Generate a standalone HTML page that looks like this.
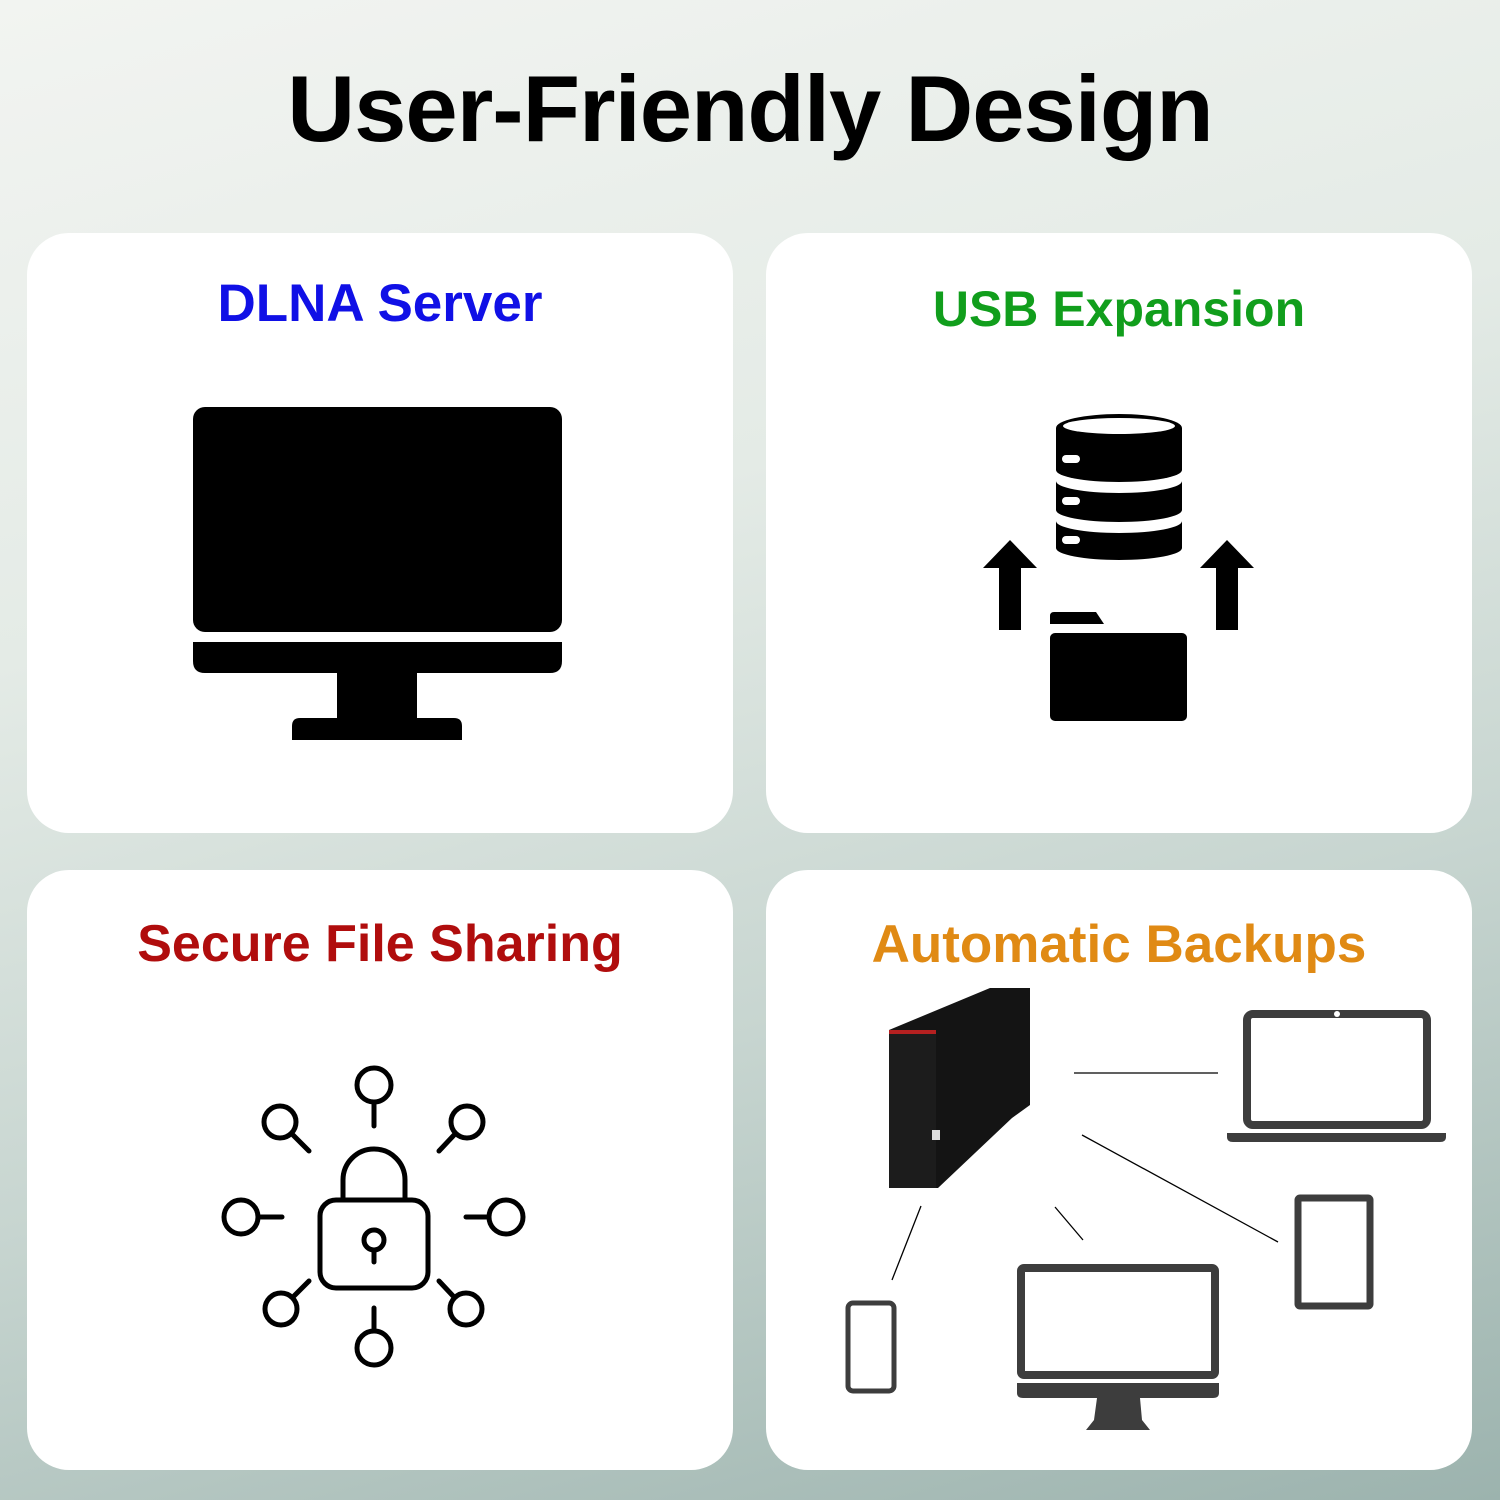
<!DOCTYPE html>
<html><head><style>
body{margin:0;width:1500px;height:1500px;overflow:hidden;font-family:"Liberation Sans",sans-serif;}
.bg{position:absolute;inset:0;background:linear-gradient(165deg,#f2f4f1 0%,#e4ebe6 35%,#c7d5d0 65%,#9cb3ae 100%);}
.card{position:absolute;background:#fff;border-radius:42px;width:706px;height:600px;}
h{position:absolute;font-weight:bold;white-space:nowrap;text-align:center;}
</style></head><body>
<div class="bg"></div>
<h style="left:0;width:1500px;top:55px;font-size:94px;color:#000;letter-spacing:-1px;">User-Friendly Design</h>
<div class="card" style="left:27px;top:233px"></div>
<div class="card" style="left:766px;top:233px"></div>
<div class="card" style="left:27px;top:870px"></div>
<div class="card" style="left:766px;top:870px"></div>
<h style="left:27px;width:706px;top:273px;font-size:53px;color:#1010e6;">DLNA Server</h>
<h style="left:766px;width:706px;top:280px;font-size:50px;color:#119e1c;">USB Expansion</h>
<h style="left:27px;width:706px;top:914px;font-size:52px;color:#b00d0d;">Secure File Sharing</h>
<h style="left:766px;width:706px;top:914px;font-size:53px;color:#e08a14;">Automatic Backups</h>
<svg width="1500" height="1500" style="position:absolute;left:0;top:0">
<rect x="193" y="407" width="369" height="225" rx="12" fill="#000"/>
<path d="M193 642H562V661Q562 673 550 673H205Q193 673 193 661Z" fill="#000"/>
<rect x="337" y="673" width="80" height="47" fill="#000"/>
<path d="M292 740V726Q292 718 300 718H454Q462 718 462 726V740Z" fill="#000"/>
<g fill="#000">
<path d="M1056 428A63 14 0 0 1 1182 428V470A63 12 0 0 1 1056 470Z"/>
<path d="M1056 481A63 12 0 0 0 1182 481V510A63 12 0 0 1 1056 510Z"/>
<path d="M1056 521A63 12 0 0 0 1182 521V548A63 12 0 0 1 1056 548Z"/>
</g>
<ellipse cx="1119" cy="426" rx="56" ry="8" fill="#fff"/>
<g fill="#fff"><rect x="1062" y="455" width="18" height="8" rx="4"/><rect x="1062" y="497" width="18" height="8" rx="4"/><rect x="1062" y="536" width="18" height="8" rx="4"/></g>
<path d="M983 568L1010 540L1037 568H1021V630H999V568Z" fill="#000"/>
<path d="M1200 568L1227 540L1254 568H1238V630H1216V568Z" fill="#000"/>
<path d="M1050 616Q1050 612 1054 612H1096L1104 624H1050Z" fill="#000"/>
<rect x="1050" y="633" width="137" height="88" rx="5" fill="#000"/>
<g fill="none" stroke="#000" stroke-width="5" stroke-linecap="round">
<path d="M343 1200V1180A31 31 0 0 1 405 1180V1200"/>
<rect x="320" y="1200" width="108" height="88" rx="16"/>
<circle cx="374" cy="1240" r="10"/><path d="M374 1250V1262"/>
<circle cx="374" cy="1085" r="17"/><path d="M374 1102V1126"/>
<circle cx="374" cy="1348" r="17"/><path d="M374 1331V1308"/>
<circle cx="241" cy="1217" r="17"/><path d="M258 1217H282"/>
<circle cx="506" cy="1217" r="17"/><path d="M489 1217H466"/>
<circle cx="280" cy="1122" r="16"/><path d="M292 1134L309 1151"/>
<circle cx="467" cy="1122" r="16"/><path d="M455 1134L439 1151"/>
<circle cx="281" cy="1309" r="16"/><path d="M293 1297L309 1281"/>
<circle cx="466" cy="1309" r="16"/><path d="M454 1297L439 1281"/>
</g>
<path d="M889 1030L990 988H1030V1105L1012 1118L938 1188H889Z" fill="#141414"/>
<rect x="889" y="1030" width="47" height="158" fill="#1c1c1c"/>
<rect x="889" y="1030" width="47" height="4" fill="#b52020"/>
<rect x="932" y="1130" width="8" height="10" fill="#ddd"/>
<g stroke="#000" stroke-width="1.3">
<path d="M1074 1073H1218"/><path d="M1082 1135L1278 1242"/>
<path d="M1055 1207L1083 1240"/><path d="M921 1206L892 1280"/>
</g>
<g fill="none" stroke="#3d3d3d">
<rect x="1247" y="1014" width="180" height="111" rx="6" stroke-width="8"/>
<rect x="1298" y="1198" width="72" height="108" rx="2" stroke-width="7"/>
<rect x="1021" y="1268" width="194" height="107" rx="3" stroke-width="8"/>
<rect x="848" y="1303" width="46" height="88" rx="5" stroke-width="5"/>
</g>
<path d="M1227 1133H1446V1137Q1446 1142 1440 1142H1233Q1227 1142 1227 1137Z" fill="#3d3d3d"/>
<circle cx="1337" cy="1014" r="3" fill="#fff"/>
<path d="M1017 1383H1219V1393Q1219 1398 1213 1398H1023Q1017 1398 1017 1393Z" fill="#3d3d3d"/>
<path d="M1097 1398H1140L1142 1420L1150 1430H1086L1094 1420Z" fill="#3d3d3d"/>
</svg>
</body></html>
